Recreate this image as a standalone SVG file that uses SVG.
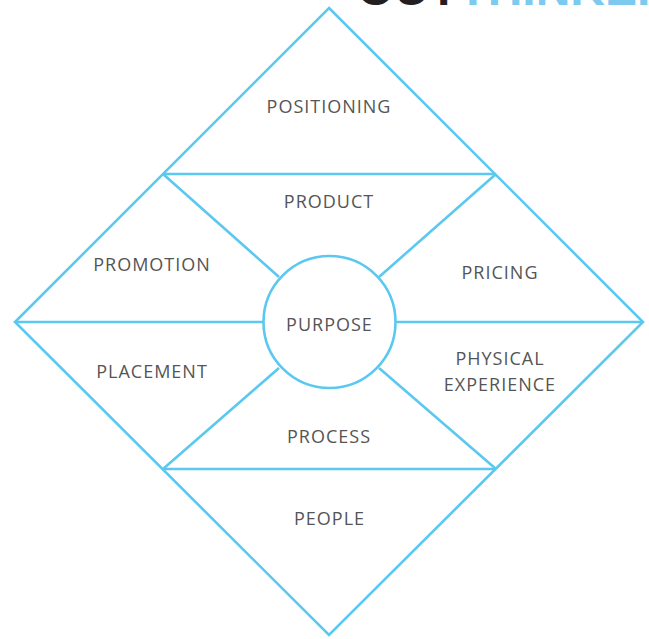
<svg xmlns="http://www.w3.org/2000/svg" width="649" height="639" viewBox="0 0 649 639">
  <style>
    .edge { fill: none; stroke: #5bc8f0; stroke-width: 2.6; stroke-linejoin: miter; stroke-linecap: butt; }
    .hub { fill: #ffffff; stroke: #5bc8f0; stroke-width: 2.6; }
    .lbl { font-family: "Open Sans", "Noto Sans", "DejaVu Sans", sans-serif; font-size: 18px; letter-spacing: 1px; fill: #555555; text-anchor: middle; }
    .brand { font-family: "Liberation Sans", Arial, sans-serif; font-size: 48px; font-weight: bold; }
  </style>
  <rect width="649" height="639" fill="#ffffff"/>

  <!-- brand wordmark, runs off the top edge -->
  <text class="brand" x="357" y="5"><tspan fill="#231f20">OUT</tspan><tspan fill="#7ccaf0">THINKER</tspan></text>

  <!-- outline and dividing lines -->
  <g id="connectors">
    <path class="edge" d="M329,8 L643,322 L329,635 L15,322 Z"/>
    <line class="edge" x1="163" y1="174" x2="496" y2="174"/>
    <line class="edge" x1="163" y1="469" x2="496" y2="469"/>
    <line class="edge" x1="15" y1="322" x2="263" y2="322"/>
    <line class="edge" x1="396" y1="322" x2="643" y2="322"/>
    <line class="edge" x1="163" y1="174" x2="279" y2="277"/>
    <line class="edge" x1="496" y1="174" x2="379" y2="277"/>
    <line class="edge" x1="163" y1="469" x2="279" y2="368"/>
    <line class="edge" x1="496" y1="469" x2="379" y2="368"/>
  </g>

  <g id="positioning"><text class="lbl" x="329" y="113">POSITIONING</text></g>
  <g id="product"><text class="lbl" x="329" y="208">PRODUCT</text></g>
  <g id="promotion"><text class="lbl" x="152" y="271">PROMOTION</text></g>
  <g id="pricing"><text class="lbl" x="500" y="279">PRICING</text></g>
  <g id="purpose">
    <circle class="hub" cx="329.5" cy="322" r="66"/>
    <text class="lbl" x="329.5" y="331">PURPOSE</text>
  </g>
  <g id="placement"><text class="lbl" x="152" y="378">PLACEMENT</text></g>
  <g id="physical-experience">
    <text class="lbl" x="500" y="365">PHYSICAL</text>
    <text class="lbl" x="500" y="391">EXPERIENCE</text>
  </g>
  <g id="process"><text class="lbl" x="329" y="443">PROCESS</text></g>
  <g id="people"><text class="lbl" x="329.5" y="525">PEOPLE</text></g>
</svg>
